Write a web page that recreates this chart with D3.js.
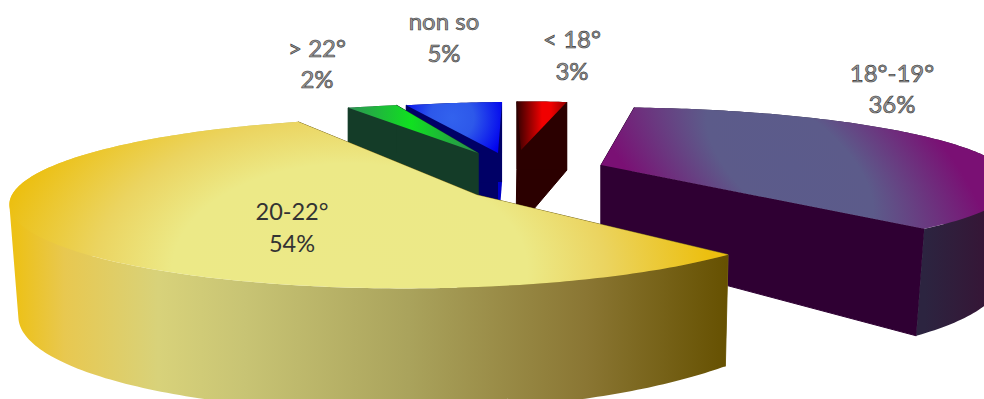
<!DOCTYPE html>
<html><head><meta charset="utf-8">
<script src="https://cdn.jsdelivr.net/npm/d3@7"></script>
<style>html,body{margin:0;padding:0;background:#fff;overflow:hidden}svg{display:block}
text{font-family:Lato,"Open Sans",sans-serif;text-anchor:middle}</style>
</head><body><div id="c"></div>
<script>
const categories = ["< 18°", "18°-19°", "20-22°", "> 22°", "non so"];
const values = [3, 36, 54, 2, 5];

const W = 984, H = 399;
// projection of each exploded wedge: apex, radii, shear, perspective, wall height and lean
const geom = {
  "< 18°":   {ax:521,ay:150,rx:266,ry:48.5,s:-7, kx:0,ky:0,h0:80,hv:12,hu:0,lx:0,l0:0,bx:-5},
  "18°-19°": {ax:601,ay:165,rx:372,ry:69,s:15,kx:.07,ky:.2,h0:87,hv:27,hu:0,lx:-12,l0:0,bx:0},
  "20-22°":  {ax:477,ay:195,rx:389.5,ry:83.3,s:0,kx:-.1625,ky:.095,h0:102,hv:20,hu:-8,lx:-7,l0:2,bx:0},
  "> 22°":   {ax:478,ay:153,rx:395,ry:51,s:-60,kx:0,ky:0,h0:80,hv:0,hu:0,lx:0,l0:0,bx:0},
  "non so":  {ax:498,ay:153,rx:309,ry:51,s:-17,kx:0,ky:0,h0:80,hv:0,hu:0,lx:0,l0:0,bx:0}
};
const labelPos = {
  "< 18°":[572,48,80], "18°-19°":[892,82,113], "20-22°":[292,220,252], "> 22°":[317,57,88], "non so":[444,30,62]
};
const wallColor = {"< 18°":"#2b0000","18°-19°":"#2f0033","20-22°":"#7a6a20","> 22°":"#143c28","non so":"#000066"};
const endWallColor = {"non so":"#0000c8"};
const drawOrder = ["non so","> 22°","< 18°","18°-19°","20-22°"];

const svg = d3.select("#c").append("svg").attr("width",W).attr("height",H);
const defs = svg.append("defs");

function linear(id,x1,x2,stops,y1=0,y2=0){
  const g=defs.append("linearGradient").attr("id",id).attr("gradientUnits","userSpaceOnUse")
    .attr("x1",x1).attr("x2",x2).attr("y1",y1).attr("y2",y2);
  stops.forEach(([o,c])=>g.append("stop").attr("offset",o).attr("stop-color",c));
}
function radial(id,cx,cy,r,rot,sy,stops){
  const g=defs.append("radialGradient").attr("id",id).attr("gradientUnits","userSpaceOnUse")
    .attr("cx",0).attr("cy",0).attr("r",r)
    .attr("gradientTransform",`translate(${cx},${cy}) rotate(${rot}) scale(1,${sy})`);
  stops.forEach(([o,c])=>g.append("stop").attr("offset",o).attr("stop-color",c));
}
radial("topY",350,270,370,0,.6,[[0,"#ece988"],[.48,"#ece987"],[.69,"#ebd460"],[.97,"#ecbf10"]]);
linear("sideY",15,730,[[0,"#edc116"],[.07,"#e8c850"],[.2,"#d8d27a"],[.32,"#c8c474"],[.55,"#aaa35c"],[.8,"#8a7633"],[1,"#655000"]]);
radial("topP",790,165,250,40,.5,[[0,"#5b5b8b"],[.4,"#5c5b8a"],[1,"#7a1074"]]);
linear("sideP",925,984,[[0,"#2c2440"],[1,"#351636"]]);
radial("topB",452,118,55,0,1,[[0,"#3262ee"],[.4,"#2d58ea"],[1,"#0000ee"]]);
linear("topR",517,567,[[0,"#350000"],[.5,"#f00000"],[.68,"#f00000"],[1,"#900000"]]);
linear("topG",345,477,[[0,"#2f8f58"],[.5,"#10e020"],[1,"#2c8a50"]]);

const pie = d3.pie().sort(null).startAngle(-2.4*Math.PI/180).endAngle((360-2.4)*Math.PI/180);
const arcs = pie(values);

function topPt(g,a){
  const u=Math.sin(a), v=-Math.cos(a), w=1/(1-g.kx*u-g.ky*v);
  return [g.ax+(g.rx*u+g.s*v)*w, g.ay+g.ry*v*w, u, v];
}
function botPt(g,a){
  const [x,y,u,v]=topPt(g,a);
  return [x+g.lx*u+g.l0, y+g.h0+g.hv*v+g.hu*u];
}
const line = d3.line();
const angles = (a0,a1)=>{
  const n=Math.max(4,Math.ceil((a1-a0)*60));
  return d3.range(n+1).map(i=>a0+(a1-a0)*i/n);
};
const topFill = {"< 18°":"url(#topR)","18°-19°":"url(#topP)","20-22°":"url(#topY)","> 22°":"url(#topG)","non so":"url(#topB)"};
const sideFill = {"< 18°":wallColor["< 18°"],"18°-19°":"url(#sideP)","20-22°":"url(#sideY)","> 22°":wallColor["> 22°"],"non so":wallColor["non so"]};

drawOrder.forEach(name=>{
  const i=categories.indexOf(name), d=arcs[i], g=geom[name];
  const group=svg.append("g").attr("class","slice");
  const As=angles(d.startAngle,d.endAngle);
  const apexT=[g.ax,g.ay], apexB=[g.ax+g.bx,g.ay+g.h0];
  const wall=a=>line([apexT,topPt(g,a).slice(0,2),botPt(g,a),apexB])+"Z";
  const wc=wallColor[name], ec=endWallColor[name];
  group.append("path").attr("d",wall(d.startAngle)).attr("fill",wc).attr("stroke",wc).attr("stroke-width",1);
  group.append("path").attr("d",wall(d.endAngle)).attr("fill",ec||wc).attr("stroke",ec?"none":wc).attr("stroke-width",1);
  const tops=As.map(a=>topPt(g,a).slice(0,2)), bots=As.map(a=>botPt(g,a));
  // outer wall: one quad per arc step, all wound the same way, so they add up to one silhouette
  const quads=d3.range(As.length-1).map(j=>{
    const q=[tops[j],tops[j+1],bots[j+1],bots[j]];
    return line(d3.polygonArea(q)<0?q.slice().reverse():q)+"Z";
  }).join("");
  group.append("path").attr("d",quads).attr("fill",sideFill[name]);
  group.append("path").attr("d",line([apexT].concat(tops))+"Z").attr("fill",topFill[name]);
});

categories.forEach((name,i)=>{
  const p=labelPos[name];
  const inside=name==="20-22°";
  const t=svg.append("g").attr("fill",inside?"#333":"#9a9a9a").attr("stroke",inside?"none":"#333").attr("stroke-width",inside?0:.6)
    .style("font-size",inside?"23.5px":"24px");
  t.append("text").attr("x",p[0]).attr("y",p[1]).text(name);
  t.append("text").attr("x",p[0]).attr("y",p[2]).text(values[i]+"%");
});
</script></body></html>
